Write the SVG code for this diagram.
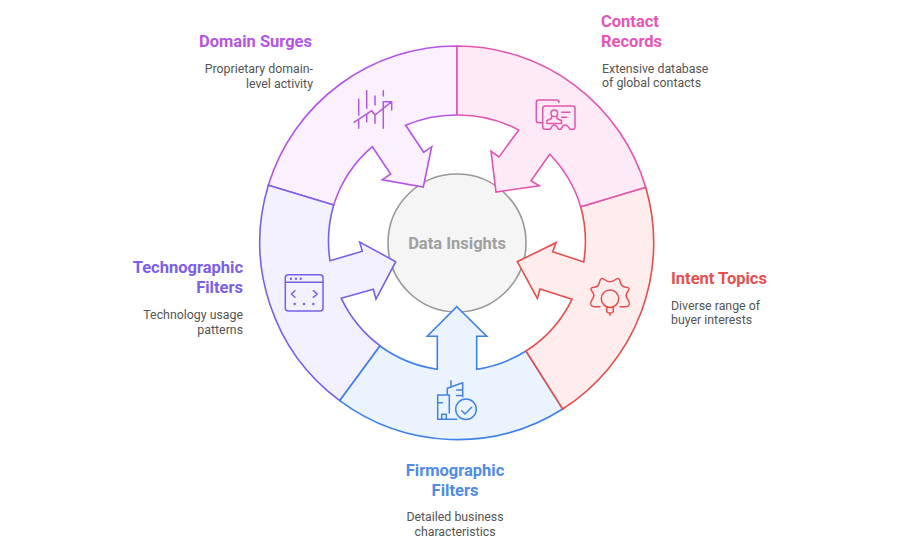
<svg xmlns="http://www.w3.org/2000/svg" width="900" height="550" viewBox="0 0 900 550">
<style>
.t{font-family:Roboto,"Liberation Sans",sans-serif;font-size:16.5px;font-weight:700}
.d{font-family:Roboto,"Liberation Sans",sans-serif;font-size:12.35px;fill:#555}
.s{stroke-width:1.6;stroke-linejoin:miter}
.i{fill:none;stroke-width:1.5;stroke-linecap:round;stroke-linejoin:round}
.e{text-anchor:end}.m{text-anchor:middle}
</style>
<rect width="900" height="550" fill="#fff"/>
<g id="center">
<circle cx="457" cy="243" r="69" fill="#f5f5f5" stroke="#999" stroke-width="1.6"/>
<text x="457" y="248.500" class="t m" fill="#a0a0a0">Data Insights</text>
</g>
<g id="domain-surges">
<path class="s" fill="#faf0ff" stroke="#b455e6" d="M268.300 185.300A197 197 0 0 1 457 46V115A128 128 0 0 0 405.700 125.300L423.700 152.300L431.700 146.700L423.300 187L382.300 179.700L390.700 174L372.300 146.700A128 128 0 0 0 333.700 205Z"/>
<path class="i" stroke="#b455e6" d="M358.700 99.300V115M358.700 120.700V128.300M366.700 90.700V108.300M366.700 114V121.700M375 96V105M375 115V123.300M383.300 90.700V96M383.300 101.700V128.300M354 122.300L371.700 110.700L375 115L391.700 101.700M383 101.700H391.700V110"/>
<text x="312" y="46.700" class="t e" fill="#b455e6">Domain Surges</text>
<text x="313" y="72.700" class="d e">Proprietary domain-</text>
<text x="313" y="87.700" class="d e">level activity</text>
</g>
<g id="technographic-filters">
<path class="s" fill="#f3f0ff" stroke="#7b5fe8" d="M339.700 400.700A197 197 0 0 1 268.300 185.300L333.700 205A128 128 0 0 0 330 260.700L362.300 251.300L359.700 242L395.700 261.700L376 299L373.300 289.300L341.300 298.300A128 128 0 0 0 380 345.700Z"/>
<g class="i" stroke="#7b5fe8">
<rect x="285.300" y="274.700" width="37.700" height="36.300" rx="3"/>
<path d="M285.300 282.300H323M295 290.700L291.300 294L295 297.300M313.300 290.700L317.300 294L313.300 297.300"/>
<path stroke-width="2.400" d="M291 278.700h.01M296 278.700h.01M300.700 278.700h.01M294.700 304h.01M304 304h.01M313.300 304h.01"/>
</g>
<text x="243" y="273.400" class="t e" fill="#7b5fe8">Technographic</text>
<text x="243" y="293" class="t e" fill="#7b5fe8">Filters</text>
<text x="243" y="319" class="d e">Technology usage</text>
<text x="243" y="334" class="d e">patterns</text>
</g>
<g id="firmographic-filters">
<path class="s" fill="#ebf3ff" stroke="#3f83e8" d="M562.700 409A197 197 0 0 1 339.700 400.700L380 346A128 128 0 0 0 437.300 369.300V336.300H427.300L456.700 306.700L486.700 336.300H476.700V369.300A128 128 0 0 0 526 351Z"/>
<g class="i" stroke="#3f83e8">
<path d="M456.700 419.300H437.700V395H449.300V413M437.700 402.700H442.300M441.700 419.300V414.300H446.300V419.300M447.300 394V388.300L462.700 382.700V396.700M451 380.700V385.700M456.700 390H462.700M456.700 395.500H462.700"/>
<circle cx="466" cy="409.300" r="10.300"/>
<path d="M461.700 410.700L465 414L471.700 407.300"/>
</g>
<text x="455" y="475.700" class="t m" fill="#4f8be8">Firmographic</text>
<text x="455" y="495.700" class="t m" fill="#4f8be8">Filters</text>
<text x="455" y="521" class="d m">Detailed business</text>
<text x="455" y="536" class="d m">characteristics</text>
</g>
<g id="intent-topics">
<path class="s" fill="#ffecec" stroke="#e64d4d" d="M645.700 187.300A197 197 0 0 1 562.700 409L526 351A128 128 0 0 0 572 299.300L540 289L537.300 298.300L517.300 261.700L556 242.700L552.700 251.700L583.700 262A128 128 0 0 0 580.700 206.700Z"/>
<g class="i" stroke="#e64d4d">
<circle cx="610" cy="298.700" r="8.700"/>
<path d="M606.700 306.700V311.700Q610 314.500 613.300 311.700V306.700M610 314V315.300"/>
<path d="M600 306.700H594Q588.500 306 592 299.700Q595.500 295.500 592.200 291.500Q589 287.500 594 287.200Q599 287 599.700 281.700Q600.500 276.500 605.200 280Q610 283.500 614.800 280Q619.500 276.500 620.200 281.700Q621 287 626 287.200Q631 287.500 627.800 291.500Q624.500 295.500 628 299.700Q631.500 306 626 306.700H620"/>
</g>
<text x="671" y="283.700" class="t" fill="#e55050">Intent Topics</text>
<text x="671" y="309.500" class="d">Diverse range of</text>
<text x="671" y="324" class="d">buyer interests</text>
</g>
<g id="contact-records">
<path class="s" fill="#feeaf6" stroke="#e255ae" d="M457 46A197 197 0 0 1 645.700 187.300L580.700 206.700A128 128 0 0 0 549.700 154.300L531 180.700L539.300 185.700L496 192L491 151.300L499 157L518.700 130A128 128 0 0 0 457 115Z"/>
<g class="i" stroke="#e255ae">
<path d="M559 102.500Q559 100 556.500 100H538.800Q536.300 100 536.300 102.500V120.200Q536.300 122.700 538.800 122.700H542.700"/>
<path d="M545 106H572.700Q575 106 575 108.300V127Q575 129.300 572.700 129.300H570Q567.500 125 565 125Q562.500 125 561 129.300H558.500Q556.500 125 554.500 125Q552 125 550.500 129.300H545Q542.700 129.300 542.700 127V108.300Q542.700 106 545 106Z"/>
<circle cx="554.300" cy="113.300" r="3.300"/>
<path d="M551.500 116.500V118.500L547 120.500V123.500H561.500V120.500L557 118.500V116.500M561.700 112.300H570M561.700 117.300H566.700"/>
</g>
<text x="601" y="26.500" class="t" fill="#e655b5">Contact</text>
<text x="601" y="46.500" class="t" fill="#e655b5">Records</text>
<text x="602" y="72.700" class="d">Extensive database</text>
<text x="602" y="87" class="d">of global contacts</text>
</g>
</svg>
